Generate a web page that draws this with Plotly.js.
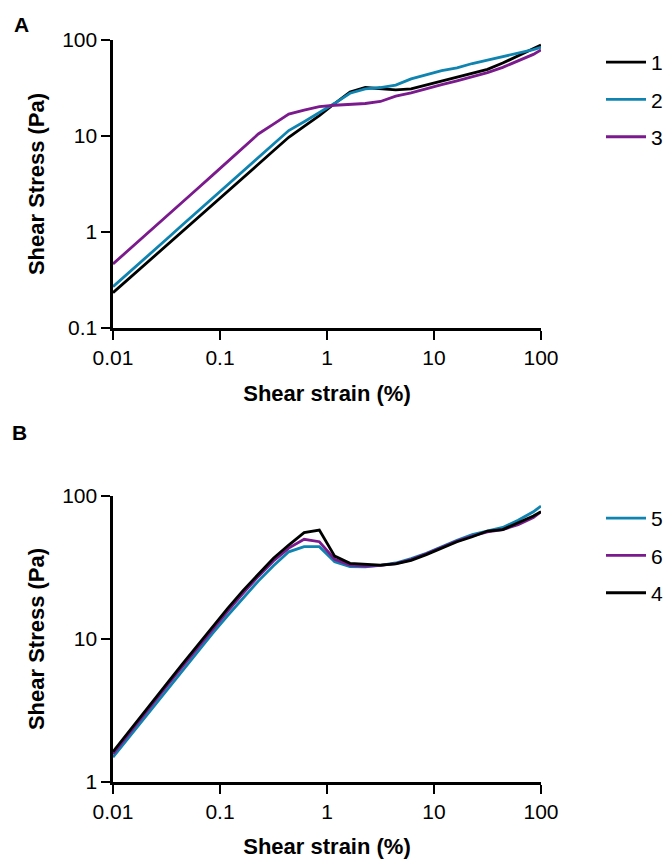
<!DOCTYPE html>
<html>
<head>
<meta charset="utf-8">
<script src="https://cdn.plot.ly/plotly-3.0.1.min.js"></script>
<style>html,body{margin:0;padding:0;background:#fff;}#chart{width:669px;height:859px;}</style>
</head>
<body>
<div id="chart"></div>
<script>
// Shear strain (%) sampling points
const strain = [0.01, 0.0118, 0.0164, 0.0228, 0.0316, 0.0439, 0.0611, 0.0848, 0.118, 0.164, 0.228, 0.316, 0.439, 0.611, 0.848, 1.18, 1.64, 2.28, 3.16, 4.39, 6.11, 8.48, 11.8, 16.4, 22.8, 31.6, 43.9, 61.1, 84.8, 100];

// Panel A: shear stress (Pa)
const stressA1 = [0.233, 0.274, 0.379, 0.525, 0.725, 1.00, 1.39, 1.92, 2.65, 3.66, 5.07, 7.01, 9.69, 12.6, 16.3, 21.8, 28.8, 32.0, 31.3, 30.2, 30.9, 33.9, 37.2, 40.7, 44.7, 49.5, 57.5, 68.4, 81.3, 88.7];
const stressA2 = [0.269, 0.316, 0.438, 0.607, 0.841, 1.17, 1.62, 2.24, 3.09, 4.29, 5.93, 8.22, 11.4, 14.1, 17.4, 21.9, 27.9, 30.9, 32.0, 33.9, 39.4, 43.7, 47.9, 51.3, 56.9, 61.7, 66.8, 73.3, 79.4, 84.0];
const stressA3 = [0.465, 0.547, 0.757, 1.05, 1.46, 2.02, 2.80, 3.89, 5.38, 7.46, 10.5, 13.3, 16.9, 18.6, 20.2, 20.9, 21.4, 21.8, 22.9, 26.0, 28.2, 31.3, 34.3, 37.6, 41.2, 45.7, 51.9, 60.3, 70.8, 78.7];

// Panel B: shear stress (Pa)
const stressB5 = [1.49, 1.74, 2.37, 3.22, 4.38, 5.94, 8.05, 10.9, 14.6, 19.4, 25.4, 32.5, 40.7, 44.2, 44.2, 34.7, 32.1, 32.0, 32.7, 34.0, 36.5, 39.8, 44.2, 49.0, 53.7, 56.9, 60.3, 67.6, 77.6, 85.1];
const stressB6 = [1.57, 1.84, 2.51, 3.42, 4.66, 6.34, 8.61, 11.7, 15.7, 20.9, 27.4, 35.1, 43.2, 49.8, 47.9, 36.1, 32.9, 32.4, 32.7, 33.7, 35.9, 39.4, 43.7, 48.4, 52.5, 56.2, 58.2, 63.1, 70.8, 77.6];
const stressB4 = [1.63, 1.91, 2.60, 3.55, 4.84, 6.59, 8.95, 12.2, 16.4, 21.8, 28.5, 36.7, 45.4, 55.4, 57.8, 38.0, 33.8, 33.5, 32.9, 33.5, 35.5, 38.9, 43.2, 47.9, 51.9, 56.9, 58.2, 64.6, 72.4, 77.6];

const namesA = ['1', '2', '3'];
const namesB = ['5', '6', '4'];

const xTickVals = [0.01, 0.1, 1, 10, 100];
const xTickText = ['0.01', '0.1', '1', '10', '100'];
const yTickValsA = [0.1, 1, 10, 100];
const yTickTextA = ['0.1', '1', '10', '100'];
const yTickValsB = [1, 10, 100];
const yTickTextB = ['1', '10', '100'];

const xTitle = 'Shear strain (%)';
const yTitle = 'Shear Stress (Pa)';

const BLACK = '#000000', BLUE = '#0f84b0', PURPLE = '#7a1a8c';
const W = 669, H = 859;
const lw = 2.8;

function tr(x, y, name, color, xa, ya, leg) {
  return {x: x, y: y, name: name, type: 'scatter', mode: 'lines',
    line: {color: color, width: lw}, xaxis: xa, yaxis: ya,
    legend: leg, legendgroup: leg + name, showlegend: true};
}

const data = [
  tr(strain, stressA1, namesA[0], BLACK, 'x', 'y', 'legend'),
  tr(strain, stressA2, namesA[1], BLUE, 'x', 'y', 'legend'),
  tr(strain, stressA3, namesA[2], PURPLE, 'x', 'y', 'legend'),
  tr(strain, stressB5, namesB[0], BLUE, 'x2', 'y2', 'legend2'),
  tr(strain, stressB6, namesB[1], PURPLE, 'x2', 'y2', 'legend2'),
  tr(strain, stressB4, namesB[2], BLACK, 'x2', 'y2', 'legend2')
];

const tickFont = {family: 'Liberation Sans, Arial, sans-serif', size: 21, color: '#000'};
const titleFont = {family: 'Liberation Sans, Arial, sans-serif', size: 22, color: '#000', weight: 'bold'};

function xax(anchor, titleStand) {
  return {type: 'log', range: [-2, 2], domain: [113/W, 541/W], anchor: anchor,
    tickvals: xTickVals, ticktext: xTickText, tickfont: tickFont,
    showgrid: false, zeroline: false, showline: true, linecolor: '#000', linewidth: 2.6,
    ticks: 'outside', ticklen: 9, tickwidth: 2.6, tickcolor: '#000',
    title: {text: xTitle, font: titleFont, standoff: titleStand}, automargin: false};
}
function yax(anchor, range, top, bottom, vals, text) {
  return {type: 'log', range: range, domain: [1 - bottom/H, 1 - top/H], anchor: anchor,
    tickvals: vals, ticktext: text, tickfont: tickFont,
    showgrid: false, zeroline: false, showline: true, linecolor: '#000', linewidth: 2.6,
    ticks: 'outside', ticklen: 9, tickwidth: 2.6, tickcolor: '#000',
    title: {text: yTitle, font: titleFont, standoff: 12}, automargin: false};
}

const legendCommon = {font: {family: 'Liberation Sans, Arial, sans-serif', size: 21, color: '#000'},
  bgcolor: 'rgba(0,0,0,0)', borderwidth: 0, itemwidth: 40, tracegroupgap: 7,
  traceorder: 'grouped', xanchor: 'left', yanchor: 'top', itemclick: false};

const layout = {
  width: W, height: H,
  margin: {l: 0, r: 0, t: 0, b: 0},
  paper_bgcolor: '#fff', plot_bgcolor: '#fff',
  font: {family: 'Liberation Sans, Arial, sans-serif', color: '#000'},
  xaxis: xax('y', 18),
  yaxis: yax('x', [-1, 2], 40, 328, yTickValsA, yTickTextA),
  xaxis2: xax('y2', 17),
  yaxis2: yax('x2', [0, 2], 496, 782, yTickValsB, yTickTextB),
  legend: Object.assign({}, legendCommon, {x: 601/W, y: 1 - 42/H}),
  legend2: Object.assign({}, legendCommon, {x: 601/W, y: 1 - 498/H}),
  annotations: [
    {text: '<b>A</b>', x: 12/W, y: 1 - 25/H, xref: 'paper', yref: 'paper', xanchor: 'left', yanchor: 'middle', showarrow: false, font: {family: 'Liberation Sans, Arial, sans-serif', size: 21, color: '#000'}},
    {text: '<b>B</b>', x: 10/W, y: 1 - 432/H, xref: 'paper', yref: 'paper', xanchor: 'left', yanchor: 'middle', showarrow: false, font: {family: 'Liberation Sans, Arial, sans-serif', size: 21, color: '#000'}}
  ],
  showlegend: true
};

Plotly.newPlot('chart', data, layout, {displayModeBar: false, staticPlot: true});
</script>
</body>
</html>
